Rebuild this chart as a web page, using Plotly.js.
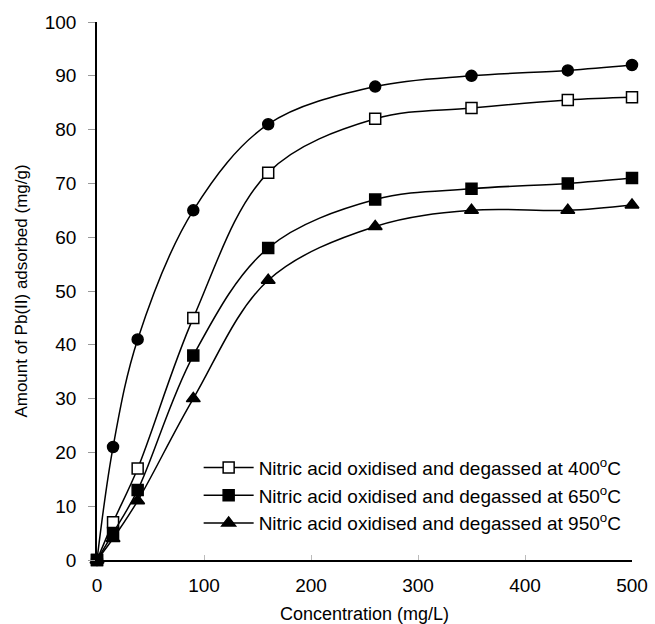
<!DOCTYPE html>
<html><head><meta charset="utf-8">
<script src="https://cdn.plot.ly/plotly-3.0.1.min.js"></script>
<style>body{margin:0;background:#fff}#c{width:655px;height:624px}</style>
</head><body><div id="c"></div>
<script>
const conc = [0, 15, 38, 90, 160, 260, 350, 440, 500];
const asReceived = [0, 21, 41, 65, 81, 88, 90, 91, 92];
const deg400 = [0, 7, 17, 45, 72, 82, 84, 85.5, 86];
const deg650 = [0, 5, 13, 38, 58, 67, 69, 70, 71];
const deg950 = [0, 4, 11, 30, 52, 62, 65, 65, 66];
const names = [
  'Nitric acid oxidised and degassed at 400<sup>o</sup>C',
  'Nitric acid oxidised and degassed at 650<sup>o</sup>C',
  'Nitric acid oxidised and degassed at 950<sup>o</sup>C'
];
const line = {color:'#000', width:1.5, shape:'spline', smoothing:1};
function tr(y, sym, fill, name, show){
  return {x:conc, y:y, type:'scatter', mode:'lines+markers', name:name||'', showlegend:show,
    line:line, cliponaxis:false,
    marker:{symbol:sym, size:sym==='triangle-up'?12:11, color:fill, line:{color:'#000', width:1.5}}};
}
const data = [
  tr(asReceived, 'circle', '#000', '', false),
  tr(deg400, 'square', '#fff', names[0], true),
  tr(deg650, 'square', '#000', names[1], true),
  tr(deg950, 'triangle-up', '#000', names[2], true)
];
const layout = {
  width:655, height:624, paper_bgcolor:'#fff', plot_bgcolor:'#fff',
  margin:{l:97, r:23, t:22, b:64},
  font:{family:'Liberation Sans, Arial, sans-serif', color:'#000'},
  showlegend:true,
  legend:{x:0.19, y:0.207, xanchor:'left', yanchor:'top', font:{size:19}, bgcolor:'rgba(0,0,0,0)', itemwidth:50, tracegroupgap:0},
  xaxis:{range:[0,500], dtick:100, showline:true, linecolor:'#000', linewidth:1.5, ticks:'inside', ticklen:5, tickcolor:'#bbb',
    showgrid:false, zeroline:false, tickfont:{size:19}, ticklabelstandoff:7,
    title:{text:'Concentration (mg/L)', font:{size:18}, standoff:14}},
  yaxis:{range:[0,100], dtick:10, showline:true, linecolor:'#000', linewidth:1.5, ticks:'outside', ticklen:7, tickcolor:'#999',
    showgrid:false, zeroline:false, tickfont:{size:19}, ticklabelstandoff:8,
    title:{text:'Amount of Pb(II) adsorbed (mg/g)', font:{size:17}, standoff:13}}
};
Plotly.newPlot('c', data, layout, {displayModeBar:false});
</script></body></html>
